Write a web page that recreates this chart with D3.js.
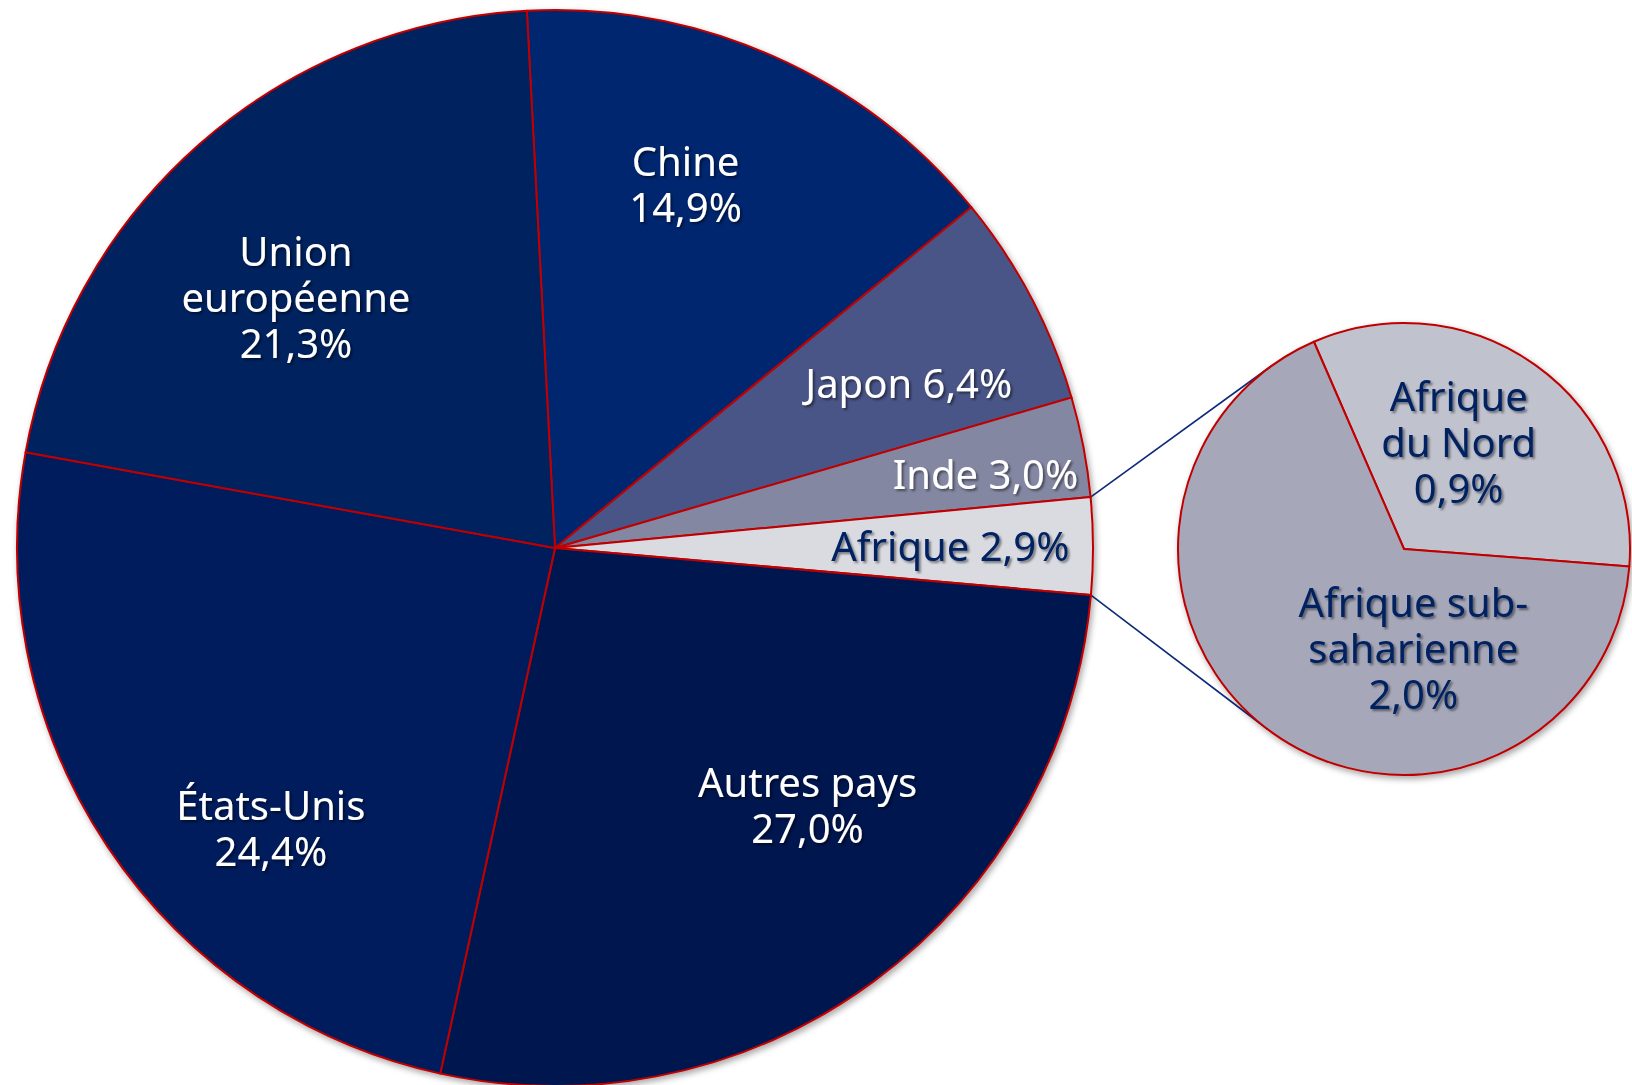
<!DOCTYPE html>
<html>
<head>
<meta charset="utf-8">
<script src="https://cdn.jsdelivr.net/npm/d3@7"></script>
<style>
  html, body { margin: 0; padding: 0; background: #fff; }
  svg text { font-family: "Noto Sans", "Open Sans", sans-serif; }
</style>
</head>
<body>
<svg id="chart"></svg>
<script>
// main pie, clockwise from the top
const regions = ["Chine", "Japon", "Inde", "Afrique", "Autres pays", "États-Unis", "Union européenne"];
const shares = [14.9, 6.4, 3.0, 2.9, 27.0, 24.4, 21.3];
const regionLabels = [["Chine", "14,9%"], ["Japon 6,4%"], ["Inde 3,0%"], ["Afrique 2,9%"],
                      ["Autres pays", "27,0%"], ["États-Unis", "24,4%"], ["Union", "européenne", "21,3%"]];

// breakdown of Afrique
const africaParts = ["Afrique du Nord", "Afrique sub-saharienne"];
const africaShares = [0.95, 1.95];
const africaLabels = [["Afrique", "du Nord", "0,9%"], ["Afrique sub-", "saharienne", "2,0%"]];

const W = 1632, H = 1085;
const mainC = {x: 555, y: 548}, mainR = 538;
const subC = {x: 1404, y: 549}, subR = 226;
const deg = Math.PI / 180;

const mainColors = ["#002570", "#4a5586", "#8487a2", "#dadbe1", "#00194f", "#001e5c", "#00205f"];
const mainText = ["#fff", "#fff", "#fff", "#002060", "#fff", "#fff", "#fff"];
const subColors = ["#c0c2ce", "#a6a8b9"];
// label nudges from the slice centroid, in px
const mainNudge = [[-26, -9], [11, 16], [50, -1], [8, 0], [23, -54], [38, 66], [-3, 40]];
const subNudge = [[-24, 4], [88, -11]];

const svg = d3.select('#chart').attr('width', W).attr('height', H);

const defs = svg.append('defs');
const shadow = defs.append('filter').attr('id', 'shadow')
    .attr('x', '-10%').attr('y', '-10%').attr('width', '120%').attr('height', '120%');
shadow.append('feDropShadow').attr('dx', 2).attr('dy', 3).attr('stdDeviation', 3)
    .attr('flood-color', '#000').attr('flood-opacity', 0.35);
const textShadow = defs.append('filter').attr('id', 'tshadow')
    .attr('x', '-10%').attr('y', '-20%').attr('width', '130%').attr('height', '150%');
textShadow.append('feDropShadow').attr('dx', 2).attr('dy', 2).attr('stdDeviation', 1.2)
    .attr('flood-color', '#000').attr('flood-opacity', 0.45);

const mainStart = -3 * deg;
const mainPie = d3.pie().sort(null).value(d => d)
    .startAngle(mainStart).endAngle(mainStart + 2 * Math.PI);
const mainArcs = mainPie(shares);
const mainArc = d3.arc().innerRadius(0).outerRadius(mainR);
const mainLabelArc = d3.arc().innerRadius(mainR * 0.72).outerRadius(mainR * 0.72);

// connector lines from the Afrique slice to tangents of the small pie
const afr = mainArcs[3];
function tangentPoint(p, side) {
    const dx = p[0] - subC.x, dy = p[1] - subC.y;
    const d = Math.hypot(dx, dy);
    const base = Math.atan2(dy, dx);
    const a = base + side * Math.acos(subR / d);
    return [subC.x + subR * Math.cos(a), subC.y + subR * Math.sin(a)];
}
const edgePts = [afr.startAngle, afr.endAngle].map(a =>
    [mainC.x + mainR * Math.sin(a), mainC.y - mainR * Math.cos(a)]);
const connectors = [[edgePts[0], tangentPoint(edgePts[0], 1)], [edgePts[1], tangentPoint(edgePts[1], -1)]];

svg.append('g').selectAll('line').data(connectors).join('line')
    .attr('x1', d => d[0][0]).attr('y1', d => d[0][1])
    .attr('x2', d => d[1][0]).attr('y2', d => d[1][1])
    .attr('stroke', '#0d2a7a').attr('stroke-width', 1.6);

const gMain = svg.append('g').attr('transform', `translate(${mainC.x},${mainC.y})`);
gMain.append('g').attr('filter', 'url(#shadow)')
  .selectAll('path').data(mainArcs).join('path')
    .attr('d', mainArc)
    .attr('fill', (d, i) => mainColors[i])
    .attr('stroke', '#c00000').attr('stroke-width', 2).attr('stroke-linejoin', 'round');

const FS = 40, LH = 46;
function drawLabels(g, arcs, labelArc, lines, nudges, colors) {
    const t = g.append('g').attr('filter', 'url(#tshadow)')
      .selectAll('text').data(arcs).join('text')
        .attr('text-anchor', 'middle')
        .attr('font-size', FS)
        .attr('fill', (d, i) => colors[i])
        .attr('transform', (d, i) => {
            const c = labelArc.centroid(d);
            return `translate(${c[0] + nudges[i][0]},${c[1] + nudges[i][1]})`;
        });
    t.each(function (d, i) {
        const n = lines[i].length;
        d3.select(this).selectAll('tspan').data(lines[i]).join('tspan')
            .attr('x', 0)
            .attr('y', (s, j) => (j - (n - 1) / 2) * LH + FS * 0.36)
            .text(s => s);
    });
}
drawLabels(gMain, mainArcs, mainLabelArc, regionLabels, mainNudge, mainText);

// small pie
const subStart = -23.5 * deg;
const subPie = d3.pie().sort(null).value(d => d)
    .startAngle(subStart).endAngle(subStart + 2 * Math.PI);
const subArcs = subPie(africaShares);
const subArc = d3.arc().innerRadius(0).outerRadius(subR);
const subLabelArc = d3.arc().innerRadius(subR * 0.6).outerRadius(subR * 0.6);

const gSub = svg.append('g').attr('transform', `translate(${subC.x},${subC.y})`);
gSub.append('g').attr('filter', 'url(#shadow)')
  .selectAll('path').data(subArcs).join('path')
    .attr('d', subArc)
    .attr('fill', (d, i) => subColors[i])
    .attr('stroke', '#c00000').attr('stroke-width', 2).attr('stroke-linejoin', 'round');
drawLabels(gSub, subArcs, subLabelArc, africaLabels, subNudge, ["#002060", "#002060"]);
</script>
</body>
</html>
